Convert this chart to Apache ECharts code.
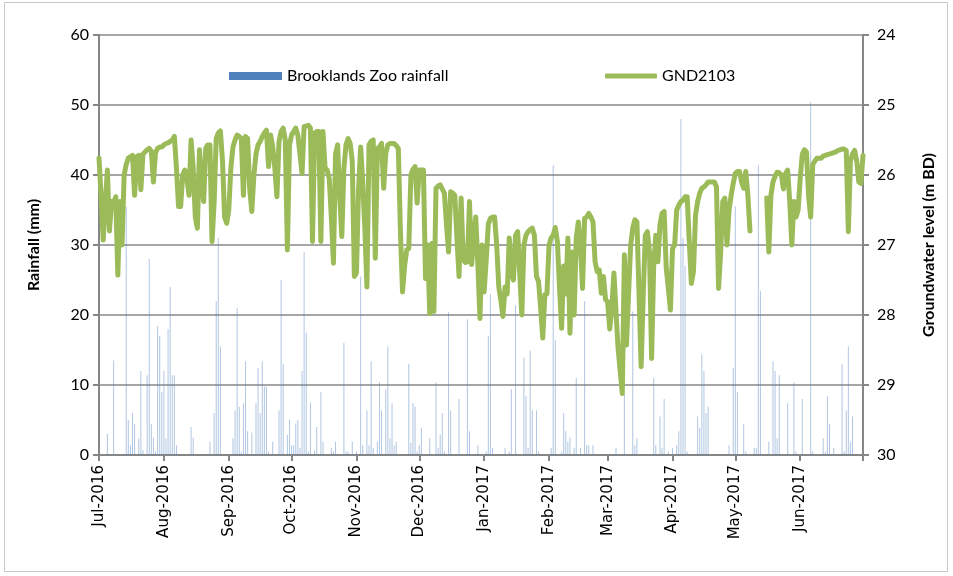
<!DOCTYPE html>
<html>
<head>
<meta charset="utf-8">
<script src="https://cdn.jsdelivr.net/npm/echarts@6/dist/echarts.min.js"></script>
<style>
html,body{margin:0;padding:0;background:#fff;}
#chart{width:953px;height:576px;}
</style>
</head>
<body>
<div id="chart"></div>
<script>
// ---- Tick labels ----
const monthLabels = ['Jul-2016','Aug-2016','Sep-2016','Oct-2016','Nov-2016','Dec-2016','Jan-2017','Feb-2017','Mar-2017','Apr-2017','May-2017','Jun-2017'];
const rainTicks = [0,10,20,30,40,50,60];
const gwTicks = [24,25,26,27,28,29,30];

// ---- Daily rainfall (mm), Brooklands Zoo ----
const rainJul = [0,0,0,0,3,0,0,13.5,0,0,0,0,0,35.5,5,1.4,6,4.4,0,2.4,12,0.7,0,11.4,28,4.4,2.5,0.5,18.4,17,9];
const rainAug = [12,2.4,18,24,11.4,11.4,1.4,0,0,0,0,0,0,4,2.5,0,0,0,0,0,0,0,1.9,0,6,22,31,15.5,0,0,0];
const rainSep = [0,0,2.4,6.4,21,6.9,0.5,7.4,13.4,3.4,0,3.2,0,7.4,12.4,6,13.4,9.8,9.8,0.5,0,1.9,0,0,6.4,25,13,0,2.9,5];
const rainOct = [1.4,1.4,4.5,5,1,12,29,17.5,0.5,7.5,0,0.6,4,0,9,1.9,0,0,0,1,0.5,1.9,0,0,0,16,0.5,0.5,0,1.9,0];
const rainNov = [0.5,0,25.5,1.4,0,6.4,1.4,13.4,1,0,1.9,10.4,6.4,0,9.4,15.5,2.4,7.4,1.4,1.9,0,0,0,0,0,13,1.7,7.4,6.9,0.5];
const rainDec = [1.4,3.9,0,0,0,2.4,0,0,10.4,1,2.9,6,0.5,0,20.4,6.4,0,0,0,8,0,0,0,19.4,3.4,0,0,0,1.4,0,0];
const rainJan = [0,0.5,17,23,1,0,0,0,0,0,1,0,0.5,9.4,0,21.4,0,0,0,13.9,8.4,1,14.9,6.4,0,6.4,0.5,0,0,0,0];
const rainFeb = [0,1,41.4,16.4,0,0,0.5,6,3.4,1.9,2.5,0,1,11,0,1,0,22,1.4,1.4,0,1.4,0,0,0,0,0,0];
const rainMar = [0,0,0,0,1,0,0,0,8.8,0,0,0,20.5,1.4,2.4,0,0,0,0,0,0,0,11,1.4,0,5.5,1,8,0,0.5,0];
const rainApr = [1,0,1.4,3.4,48,31,27,0.5,0,0,0,0,5.5,3.9,14.4,12,6,6.9,0,0,0,0,0,0,0,0,0,1.4,0,12.4];
const rainMay = [35.5,9,0,0,4.4,0.5,0,0,0,1,1,41.4,23.4,0,0,0,1.9,0,13.4,12,2.4,11.4,0,0,0,7.4,0,0,10.4,0.5,0];
const rainJun = [0,8,0,0,0,50.4,0.5,0,0,0,0,2.4,0.5,8.4,4.4,0,1,0,0,0,13,0.5,6.4,15.5,1.9,5.5,0,0,0,0];
const rainEnd = [null];

// ---- Daily groundwater level (m BD), GND2103 ----
const gwJul = [25.76,26.3,26.93,26.4,25.93,26.8,26.38,26.4,26.31,27.43,26.38,27.0,26.0,25.85,25.76,25.74,25.72,26.29,25.74,25.72,26.21,25.7,25.67,25.64,25.62,25.66,26.1,25.68,25.62,25.6,25.6];
const gwAug = [25.57,25.55,25.54,25.52,25.5,25.45,25.9,26.45,26.45,26.0,25.93,26.05,26.29,25.5,25.9,26.6,26.76,25.64,26.1,26.38,25.62,25.57,25.57,26.95,26.4,25.48,25.4,25.37,25.8,26.6,26.69];
const gwSep = [26.5,25.9,25.6,25.5,25.43,25.45,25.48,26.29,25.45,25.48,26.2,26.52,26.0,25.7,25.57,25.52,25.45,25.4,25.36,25.88,25.43,25.6,25.9,26.31,25.52,25.38,25.33,25.5,27.07,25.57];
const gwOct = [25.43,25.38,25.33,25.43,25.7,25.98,25.31,25.3,25.29,25.33,26.95,25.4,25.38,25.38,26.95,25.38,25.9,25.93,26.05,26.6,27.26,25.7,25.57,26.3,26.88,25.9,25.57,25.48,25.55,25.8,27.45];
const gwNov = [27.4,26.2,25.6,26.1,26.76,27.6,25.57,25.52,25.5,27.19,25.62,25.6,25.55,26.19,25.69,25.57,25.55,25.55,25.55,25.58,25.62,26.8,27.67,27.3,27.07,27.05,26.0,25.92,25.88,26.4];
const gwDec = [25.93,25.93,25.93,27.48,27.0,27.98,26.98,27.95,26.19,26.16,26.14,26.2,26.26,26.7,27.1,26.24,26.26,26.29,26.9,27.45,26.33,27.2,27.25,27.24,26.38,27.28,26.9,26.6,27.28,28.05,27.0];
const gwJan = [27.67,27.2,26.7,26.62,26.6,26.6,27.0,27.6,27.8,28.02,27.6,27.7,26.9,27.4,27.5,26.86,26.81,27.4,28.0,27.0,26.86,26.81,26.78,26.76,26.86,27.45,27.52,27.9,28.33,27.71,27.7];
const gwFeb = [27.0,26.9,26.86,26.75,26.95,27.6,28.19,27.3,27.7,26.9,28.26,27.1,28.0,26.9,26.67,27.0,27.62,26.62,26.6,26.55,26.6,26.67,27.24,27.38,27.36,27.69,27.45,27.78];
const gwMar = [27.81,28.2,27.9,27.4,27.95,28.48,28.8,29.12,27.14,28.43,27.7,27.0,26.76,26.64,26.67,27.71,28.74,27.71,26.86,26.81,27.1,28.62,27.3,26.86,27.24,26.71,26.55,26.52,27.33,27.62,27.93];
const gwApr = [27.05,27.0,26.5,26.43,26.38,26.36,26.31,26.31,26.95,27.55,27.38,26.57,26.38,26.26,26.19,26.17,26.14,26.1,26.1,26.1,26.1,26.17,27.62,27.1,26.38,26.33,27.0,26.5,26.29,26.12];
const gwMay = [25.98,25.95,25.95,26.1,26.19,25.95,26.29,26.8,null,null,null,null,null,null,null,26.33,27.1,26.29,26.1,26.02,25.96,25.97,26.0,26.2,25.98,25.93,26.38,27.0,26.38,26.6,26.5];
const gwJun = [26.05,25.7,25.64,25.67,26.3,26.6,25.85,25.8,25.76,25.76,25.76,25.73,25.72,25.71,25.7,25.69,25.68,25.67,25.65,25.64,25.63,25.63,25.65,26.81,25.8,25.7,25.65,25.8,26.1,26.12];
const gwEnd = [25.72];

const rainfall = [].concat(rainJul,rainAug,rainSep,rainOct,rainNov,rainDec,rainJan,rainFeb,rainMar,rainApr,rainMay,rainJun,rainEnd);
const groundwater = [].concat(gwJul,gwAug,gwSep,gwOct,gwNov,gwDec,gwJan,gwFeb,gwMar,gwApr,gwMay,gwJun,gwEnd);

// daily categories, 1 Jul 2016 .. 1 Jul 2017
const days = [];
{
  const d = new Date(Date.UTC(2016,6,1));
  for (let i = 0; i < rainfall.length; i++) {
    const y = d.getUTCFullYear(), m = d.getUTCMonth()+1, dd = d.getUTCDate();
    days.push(y + '-' + String(m).padStart(2,'0') + '-' + String(dd).padStart(2,'0'));
    d.setUTCDate(dd+1);
  }
}
const isMonthStart = (v) => v.slice(8) === '01';
const monthIndex = (v) => (parseInt(v.slice(0,4)) - 2016) * 12 + parseInt(v.slice(5,7)) - 7;

const chart = echarts.init(document.getElementById('chart'), null, {renderer:'canvas'});
const gridColor = '#a6a6a6';
const axisColor = '#868686';
const fontMain = 'Lato, "Liberation Sans", sans-serif';

chart.setOption({
  animation: false,
  backgroundColor: '#fff',
  graphic: [{
    type: 'rect', silent: true, z: -10,
    shape: {x: 4.5, y: 2.5, width: 943, height: 569},
    style: {fill: 'none', stroke: '#c8c8c8', lineWidth: 1}
  }],
  grid: {left: 99, right: 90, top: 35, bottom: 121, containLabel: false},
  legend: [{
    left: 224, top: 63, itemWidth: 53, itemHeight: 8, itemGap: 10,
    icon: 'rect',
    data: [{name: 'Brooklands Zoo rainfall', itemStyle: {color: '#4F81BD', opacity: 1}}],
    textStyle: {fontSize: 16, color: '#000', fontFamily: fontMain}
  },{
    left: 600, top: 63, itemWidth: 52, itemHeight: 5, itemGap: 10,
    icon: 'roundRect',
    data: [{name: 'GND2103', itemStyle: {color: '#9BBB59'}}],
    textStyle: {fontSize: 16, color: '#000', fontFamily: fontMain}
  }],
  xAxis: {
    type: 'category',
    data: days,
    boundaryGap: false,
    axisLine: {show: true, lineStyle: {color: axisColor, width: 2}},
    axisTick: {show: true, length: 6, inside: false, lineStyle: {color: axisColor, width: 2},
      interval: (i, v) => isMonthStart(v)},
    axisLabel: {
      interval: (i, v) => isMonthStart(v) && monthIndex(v) < monthLabels.length,
      rotate: 90, margin: 10,
      fontSize: 15, color: '#000', fontFamily: '"DejaVu Sans", Verdana, sans-serif',
      formatter: (v) => { const k = monthIndex(v); return k < monthLabels.length ? monthLabels[k] : ''; }
    },
    splitLine: {show: false}
  },
  yAxis: [{
    type: 'value', min: rainTicks[0], max: rainTicks[rainTicks.length-1], interval: 10,
    position: 'left',
    name: 'Rainfall (mm)', nameLocation: 'middle', nameGap: 57, nameRotate: 90,
    nameTextStyle: {fontSize: 16, fontWeight: 'bold', color: '#000', fontFamily: fontMain},
    axisLine: {show: true, lineStyle: {color: axisColor, width: 2}},
    axisTick: {show: true, length: 6, lineStyle: {color: axisColor, width: 2}},
    axisLabel: {fontSize: 16, color: '#000', margin: 10, fontFamily: fontMain},
    splitLine: {show: true, lineStyle: {color: gridColor, width: 2}}
  },{
    type: 'value', min: gwTicks[0], max: gwTicks[gwTicks.length-1], interval: 1,
    inverse: true, position: 'right',
    name: 'Groundwater level (m BD)', nameLocation: 'middle', nameGap: 58, nameRotate: 90,
    nameTextStyle: {fontSize: 16, fontWeight: 'bold', color: '#000', fontFamily: fontMain},
    axisLine: {show: true, lineStyle: {color: axisColor, width: 2}},
    axisTick: {show: true, length: 6, lineStyle: {color: axisColor, width: 2}},
    axisLabel: {fontSize: 16, color: '#000', margin: 14, fontFamily: fontMain},
    splitLine: {show: false}
  }],
  series: [{
    name: 'Brooklands Zoo rainfall',
    type: 'bar',
    yAxisIndex: 0,
    data: rainfall,
    barWidth: 1,
    itemStyle: {color: 'rgba(79,129,189,0.45)'},
    z: 2
  },{
    name: 'GND2103',
    type: 'line',
    yAxisIndex: 1,
    data: groundwater,
    showSymbol: false,
    symbol: 'none',
    connectNulls: false,
    lineStyle: {color: '#9BBB59', width: 5, join: 'round', cap: 'round'},
    itemStyle: {color: '#9BBB59'},
    z: 3
  }]
});
</script>
</body>
</html>
